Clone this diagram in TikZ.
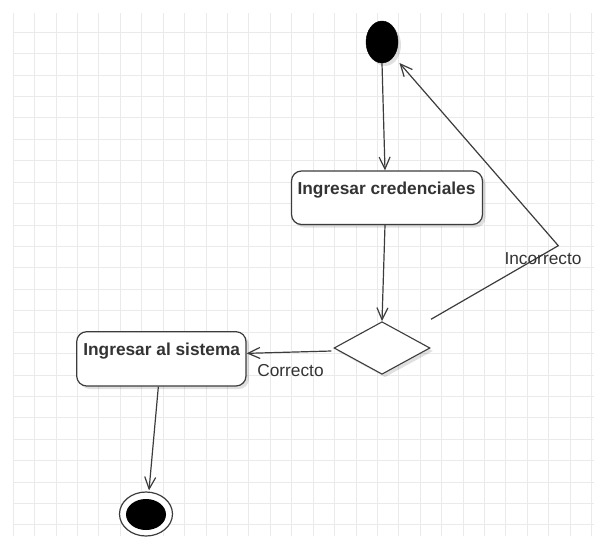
\documentclass[tikz,border=0pt]{standalone}
\usepackage{fontspec}
\setmainfont{Liberation Sans}
\usetikzlibrary{shapes.geometric,arrows.meta,shadows}
\definecolor{gridc}{HTML}{EAEAEA}
\definecolor{linec}{HTML}{3C3C3C}
\definecolor{textc}{HTML}{333333}
\begin{document}
\begin{tikzpicture}[x=1pt,y=-1pt,
  gridline/.style={gridc, line width=1pt},
  shade/.style={drop shadow={shadow xshift=3pt, shadow yshift=-3pt, opacity=0.12, fill=black}},
  statebox/.style={draw=linec, line width=1.2pt, rounded corners=10pt, fill=white, inner sep=0pt, shade},
  boxtext/.style={anchor=base, inner sep=0pt, text=textc, font=\fontsize{17.3pt}{20pt}\selectfont\bfseries},
  edgetext/.style={anchor=base, inner sep=0pt, text=textc, font=\fontsize{17.3pt}{20pt}\selectfont},
  decision/.style={draw=linec, line width=1.1pt, diamond, fill=white, inner sep=0pt, minimum width=96pt, minimum height=52.6pt, shade},
  edge/.style={draw=linec, line width=1.2pt, -{Straight Barb[length=12pt,width=11pt,line width=1.2pt]}}
]
\useasboundingbox (0,0) rectangle (594,536);
\fill[white] (0,0) rectangle (594,536);
% grid
\foreach \i in {0,...,27} \draw[gridline] ({13.3+21.42*\i},13) -- ({13.3+21.42*\i},536);
\foreach \j in {0,...,23} \draw[gridline] (13,{32.3+21.42*\j}) -- (594,{32.3+21.42*\j});

% nodes
\node[ellipse, fill=black, draw=black, minimum width=32pt, minimum height=42pt, inner sep=0pt, shade] (init) at (382,42) {};
\node[statebox, minimum width=191pt, minimum height=53.5pt] (b1) at (387,197.75) {};
\node[boxtext] (b1t) at (386.5,194) {Ingresar credenciales};
\node[decision] (d) at (382,348) {};
\node[statebox, minimum width=169.3pt, minimum height=54.3pt] (b2) at (161.35,358.85) {};
\node[boxtext] (b2t) at (161.7,355) {Ingresar al sistema};
\node[ellipse, draw=linec, fill=white, line width=1.2pt, minimum width=53pt, minimum height=44pt, inner sep=0pt] (fin) at (146,514) {};
\node[ellipse, fill=black, minimum width=40pt, minimum height=31pt, inner sep=0pt] (finin) at (146,514.5) {};

% edges
\draw[edge] (init.south) -- ([xshift=-2pt]b1.north);
\draw[edge] ([xshift=-2pt]b1.south) -- (d.north);
\draw[edge] ([shift={(-2pt,-3pt)}]d.west) -- ([yshift=5.5pt]b2.east);
\draw[edge] ([xshift=-3pt]b2.south) -- ([shift={(3pt,1pt)}]fin.north);
\coordinate (istart) at (431,319.3);
\coordinate (ibend) at (558.3,245.7);
\draw[edge] (istart) -- (ibend) -- ([shift={(6pt,-6pt)}]init.south east);

% labels
\node[edgetext] (lc) at (290.5,376.5) {Correcto};
\node[edgetext] (li) at (543,264) {Incorrecto};
\end{tikzpicture}
\end{document}
